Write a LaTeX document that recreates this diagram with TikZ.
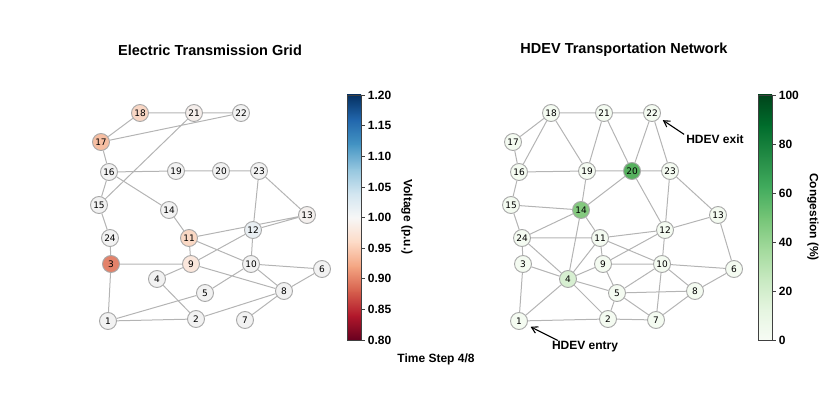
\documentclass[tikz,border=0pt]{standalone}
\usepackage{fontspec}
\setmainfont{Liberation Sans}
\newfontfamily\busfont{DejaVu Sans}
\usetikzlibrary{arrows.meta,backgrounds}
% node and line colours
\definecolor{ringgray}{RGB}{168,168,168}
\definecolor{linkgray}{RGB}{180,180,180}
\definecolor{plainbus}{RGB}{242,242,242}
\definecolor{plainroad}{RGB}{244,251,241}
\definecolor{vthree}{RGB}{227,130,106}
\definecolor{vseventeen}{RGB}{246,190,162}
\definecolor{veighteen}{RGB}{248,214,196}
\definecolor{veleven}{RGB}{250,216,196}
\definecolor{vnine}{RGB}{251,231,220}
\definecolor{vtwentyone}{RGB}{245,238,235}
\definecolor{vthirteen}{RGB}{244,240,238}
\definecolor{vtwelve}{RGB}{233,239,243}
\definecolor{ctwenty}{RGB}{86,176,94}
\definecolor{cfourteen}{RGB}{132,201,127}
\definecolor{cfour}{RGB}{215,239,209}
% colour bar stops
\definecolor{rb0}{HTML}{67001F}
\definecolor{rb1}{HTML}{B2182B}
\definecolor{rb2}{HTML}{D6604D}
\definecolor{rb3}{HTML}{F4A582}
\definecolor{rb4}{HTML}{FDDBC7}
\definecolor{rb5}{HTML}{F7F7F7}
\definecolor{rb6}{HTML}{D1E5F0}
\definecolor{rb7}{HTML}{92C5DE}
\definecolor{rb8}{HTML}{4393C3}
\definecolor{rb9}{HTML}{2166AC}
\definecolor{rb10}{HTML}{053061}
\definecolor{gr0}{HTML}{F7FCF5}
\definecolor{gr1}{HTML}{E5F5E0}
\definecolor{gr2}{HTML}{C7E9C0}
\definecolor{gr3}{HTML}{A1D99B}
\definecolor{gr4}{HTML}{74C476}
\definecolor{gr5}{HTML}{41AB5D}
\definecolor{gr6}{HTML}{238B45}
\definecolor{gr7}{HTML}{006D2C}
\definecolor{gr8}{HTML}{00441B}

\begin{document}
\begin{tikzpicture}[x=1pt, y=-1pt,
    bus/.style={circle, draw=ringgray, line width=0.9pt, minimum size=17pt, inner sep=0pt, fill=plainbus, font=\busfont\fontsize{9}{9}\selectfont},
    road/.style={bus, fill=plainroad},
    link/.style={draw=linkgray, line width=1pt},
    paneltitle/.style={font=\bfseries\fontsize{14.5}{16}\selectfont},
    barlabel/.style={font=\bfseries\fontsize{12}{14}\selectfont, inner sep=0pt},
    barframe/.style={draw=black!75, line width=0.7pt},
    pointer/.style={-{Straight Barb[length=6pt, width=7pt]}, line width=1.1pt, shorten >=4pt}]
    \useasboundingbox (0,0) rectangle (837,395);

    % titles
    \node[paneltitle] (gridtitle) at (210,50) {Electric Transmission Grid};
    \node[paneltitle] (roadtitle) at (624,50) {HDEV Transportation Network};

    % transmission grid buses
    \node[bus] (g1) at (108,321) {1};
    \node[bus] (g2) at (196,319) {2};
    \node[bus, fill=vthree] (g3) at (111,264) {3};
    \node[bus] (g4) at (157,279) {4};
    \node[bus] (g5) at (205,293) {5};
    \node[bus] (g6) at (322,269) {6};
    \node[bus] (g7) at (245,320) {7};
    \node[bus] (g8) at (284,291) {8};
    \node[bus, fill=vnine] (g9) at (191,264) {9};
    \node[bus] (g10) at (251,264) {10};
    \node[bus, fill=veleven] (g11) at (189,238) {11};
    \node[bus, fill=vtwelve] (g12) at (253,230) {12};
    \node[bus, fill=vthirteen] (g13) at (307,215) {13};
    \node[bus] (g14) at (169,210) {14};
    \node[bus] (g15) at (99,205) {15};
    \node[bus] (g16) at (109,172) {16};
    \node[bus, fill=vseventeen] (g17) at (101,142) {17};
    \node[bus, fill=veighteen] (g18) at (140,113) {18};
    \node[bus] (g19) at (176,171) {19};
    \node[bus] (g20) at (221,171) {20};
    \node[bus, fill=vtwentyone] (g21) at (194,113) {21};
    \node[bus] (g22) at (241,113) {22};
    \node[bus] (g23) at (259,171) {23};
    \node[bus] (g24) at (110,238) {24};

    % transportation network nodes
    \node[road] (t1) at (519,321) {1};
    \node[road] (t2) at (608,319) {2};
    \node[road] (t3) at (523,264) {3};
    \node[road, fill=cfour] (t4) at (568,279) {4};
    \node[road] (t5) at (617,293) {5};
    \node[road] (t6) at (734,269) {6};
    \node[road] (t7) at (656,320) {7};
    \node[road] (t8) at (695,291) {8};
    \node[road] (t9) at (603,264) {9};
    \node[road] (t10) at (662,264) {10};
    \node[road] (t11) at (600,238) {11};
    \node[road] (t12) at (665,230) {12};
    \node[road] (t13) at (718,215) {13};
    \node[road, fill=cfourteen] (t14) at (581,210) {14};
    \node[road] (t15) at (511,205) {15};
    \node[road] (t16) at (519,172) {16};
    \node[road] (t17) at (513,142) {17};
    \node[road] (t18) at (551,113) {18};
    \node[road] (t19) at (587,171) {19};
    \node[road, fill=ctwenty] (t20) at (632,171) {20};
    \node[road] (t21) at (604,113) {21};
    \node[road] (t22) at (652,113) {22};
    \node[road] (t23) at (670,171) {23};
    \node[road] (t24) at (522,238) {24};

    \begin{scope}[on background layer]
        % grid lines
        \draw[link] (g18) -- (g21) (g21) -- (g22) (g18) -- (g17) (g17) -- (g22) (g21) -- (g15);
        \draw[link] (g17) -- (g16) (g16) -- (g19) (g19) -- (g20) (g20) -- (g23) (g16) -- (g15);
        \draw[link] (g16) -- (g14) (g15) -- (g24) (g14) -- (g11) (g23) -- (g12) (g23) -- (g13);
        \draw[link] (g11) -- (g13) (g12) -- (g13) (g24) -- (g3) (g3) -- (g9) (g3) -- (g1);
        \draw[link] (g11) -- (g9) (g11) -- (g10) (g12) -- (g10) (g9) -- (g12) (g9) -- (g4);
        \draw[link] (g9) -- (g8) (g10) -- (g6) (g10) -- (g8) (g10) -- (g5) (g6) -- (g8);
        \draw[link] (g4) -- (g2) (g1) -- (g5) (g1) -- (g2) (g2) -- (g8) (g8) -- (g7);
        % road links
        \draw[link] (t18) -- (t21) (t21) -- (t22) (t18) -- (t17) (t18) -- (t16) (t18) -- (t19);
        \draw[link] (t17) -- (t16) (t21) -- (t19) (t21) -- (t20) (t22) -- (t20) (t22) -- (t23);
        \draw[link] (t16) -- (t19) (t19) -- (t20) (t20) -- (t23) (t16) -- (t15) (t19) -- (t14);
        \draw[link] (t20) -- (t14) (t20) -- (t12) (t23) -- (t12) (t23) -- (t13) (t15) -- (t14);
        \draw[link] (t15) -- (t24) (t14) -- (t24) (t14) -- (t11) (t14) -- (t4) (t24) -- (t11);
        \draw[link] (t24) -- (t3) (t24) -- (t4) (t11) -- (t12) (t12) -- (t13) (t12) -- (t9);
        \draw[link] (t12) -- (t10) (t13) -- (t6) (t11) -- (t9) (t11) -- (t10) (t11) -- (t4);
        \draw[link] (t3) -- (t4) (t3) -- (t1) (t9) -- (t4) (t9) -- (t10) (t9) -- (t5);
        \draw[link] (t10) -- (t6) (t10) -- (t5) (t10) -- (t8) (t10) -- (t7) (t6) -- (t8);
        \draw[link] (t4) -- (t5) (t4) -- (t2) (t4) -- (t1) (t5) -- (t8) (t5) -- (t2);
        \draw[link] (t5) -- (t7) (t8) -- (t7) (t1) -- (t2) (t2) -- (t7);
    \end{scope}

    % voltage colour bar
    \foreach \i in {0,...,9}{
        \pgfmathtruncatemacro\j{\i+1}
        \shade[bottom color=rb\i, top color=rb\j] (347,{340.3-24.5*\i}) rectangle (361,{339.7-24.5*\j});
    }
    \draw[barframe] (347,95) rectangle (361,340);
    \foreach \v [count=\k from 0] in {0.80,0.85,0.90,0.95,1.00,1.05,1.10,1.15,1.20}
        \draw[barframe] (361,{340-30.625*\k}) -- ++(3.5,0) node[barlabel, anchor=west, xshift=3pt] (vtick\k) {\v};
    \node[barlabel, rotate=-90] (vname) at (407,217) {Voltage (p.u.)};
    \node[barlabel] (stepnote) at (436,359) {Time Step 4/8};

    % congestion colour bar
    \foreach \i in {0,...,7}{
        \pgfmathtruncatemacro\j{\i+1}
        \shade[bottom color=gr\i, top color=gr\j] (758,{340.3-30.625*\i}) rectangle (772,{339.7-30.625*\j});
    }
    \draw[barframe] (758,95) rectangle (772,340);
    \foreach \v [count=\k from 0] in {0,20,40,60,80,100}
        \draw[barframe] (772,{340-49*\k}) -- ++(3.5,0) node[barlabel, anchor=west, xshift=3pt] (ctick\k) {\v};
    \node[barlabel, rotate=-90] (cname) at (813,217) {Congestion (\%)};

    % entry and exit notes
    \node[barlabel] (exit) at (715,139) {HDEV exit};
    \node[barlabel] (entry) at (585,347) {HDEV entry};
    \draw[pointer] ([xshift=-2pt]exit.north west) -- (t22);
    \draw[pointer] ([xshift=6pt, yshift=1pt]entry.north west) -- (t1);
\end{tikzpicture}
\end{document}
